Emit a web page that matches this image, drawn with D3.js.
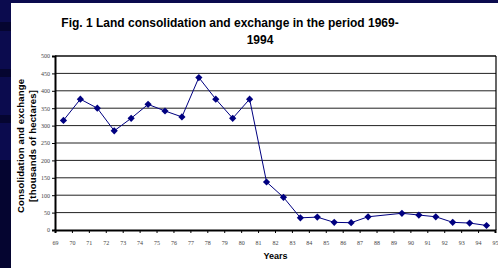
<!DOCTYPE html>
<html><head><meta charset="utf-8">
<script src="https://cdn.jsdelivr.net/npm/d3@7"></script>
<style>html,body{margin:0;padding:0;background:#fff;overflow:hidden}</style>
</head><body><svg id="c" width="498" height="268"></svg>
<script>
const years = [1969,1970,1971,1972,1973,1974,1975,1976,1977,1978,1979,1980,1981,1982,1983,1984,1985,1986,1987,1988,1989,1990,1991,1992,1993,1994];
const values = [315,376,350,285,321,361,342,325,438,376,321,376,138,94,35,37,22,21,38,null,48,43,38,22,20,13];
const xTickLabels = ["69","70","71","72","73","74","75","76","77","78","79","80","81","82","83","84","85","86","87","88","89","90","91","92","93","94","95"];
const yTicks = [0,50,100,150,200,250,300,350,400,450,500];

const svg = d3.select("#c");
// slide background
svg.append("rect").attr("x",0).attr("y",0).attr("width",498).attr("height",268).attr("fill","#0b0b4e");
[[22,9],[69,8],[115,8],[160,108]].forEach(b=>{
  svg.append("rect").attr("x",0).attr("y",b[0]).attr("width",11).attr("height",b[1]).attr("fill","#050530");
});
svg.append("rect").attr("x",11).attr("y",3).attr("width",487).attr("height",265).attr("fill","#fff");

const L=55, R=496, T=56, B=230;
const x = d3.scaleLinear().domain([69,95]).range([L,495]);
const y = d3.scaleLinear().domain([0,500]).range([B,T]);

// gridlines
svg.append("g").selectAll("line").data(yTicks.filter(v=>v>0)).join("line")
  .attr("x1",L).attr("x2",R).attr("y1",d=>y(d)).attr("y2",d=>y(d))
  .attr("stroke","#222").attr("stroke-width",1);
// plot border top/right
svg.append("line").attr("x1",L).attr("x2",R).attr("y1",T).attr("y2",T).attr("stroke","#000").attr("stroke-width",1.2);
svg.append("line").attr("x1",R).attr("x2",R).attr("y1",T).attr("y2",B).attr("stroke","#000").attr("stroke-width",1.2);

// y axis
const yAxis = svg.append("g").attr("transform",`translate(${L},0)`)
  .call(d3.axisLeft(y).tickValues(yTicks).tickSize(3).tickFormat(d3.format("d")));
yAxis.select(".domain").attr("stroke","#000").attr("stroke-width",2);
yAxis.selectAll("text").attr("font-family","Liberation Serif").attr("font-size","6px").attr("fill","#444").attr("x",-5);

// x axis
const xAxis = svg.append("g").attr("transform",`translate(0,${B})`)
  .call(d3.axisBottom(x).tickValues(d3.range(69,96)).tickSize(3).tickFormat((d,i)=>xTickLabels[i]));
xAxis.select(".domain").attr("stroke","#000").attr("stroke-width",2);
xAxis.selectAll("text").attr("font-family","Liberation Serif").attr("font-size","6px").attr("fill","#444").attr("y",11);

// data
const pts = years.map((yr,i)=>({yr, v:values[i]})).filter(d=>d.v!==null);
const cx = d => x(d.yr-1900+0.5);
svg.append("path").datum(pts)
  .attr("d", d3.line().x(cx).y(d=>y(d.v)))
  .attr("fill","none").attr("stroke","#000080").attr("stroke-width",1);
svg.append("g").selectAll("path").data(pts).join("path")
  .attr("transform",d=>`translate(${cx(d)},${y(d.v)})`)
  .attr("d","M0,-3.6L3.6,0L0,3.6L-3.6,0Z").attr("fill","#000080");

// titles
const title = svg.append("g").attr("font-family","Liberation Sans, Arial").attr("font-weight","bold").attr("font-size","12px").attr("fill","#000").attr("text-anchor","middle");
title.append("text").attr("x",230).attr("y",27).text("Fig. 1 Land consolidation and exchange in the period 1969-");
title.append("text").attr("x",260).attr("y",44).text("1994");

svg.append("text").attr("x",275.5).attr("y",258.5).attr("text-anchor","middle")
  .attr("font-family","Liberation Sans, Arial").attr("font-weight","bold").attr("font-size","9px").text("Years");

const yt = svg.append("g").attr("transform","translate(0,146) rotate(-90)")
  .attr("font-family","Liberation Sans, Arial").attr("font-weight","bold").attr("font-size","9.5px").attr("text-anchor","middle");
yt.append("text").attr("x",0).attr("y",24).attr("textLength",134).attr("lengthAdjust","spacing").text("Consolidation and exchange");
yt.append("text").attr("x",0).attr("y",35.5).attr("textLength",112).attr("lengthAdjust","spacing").text("[thousands of hectares]");
</script></body></html>
